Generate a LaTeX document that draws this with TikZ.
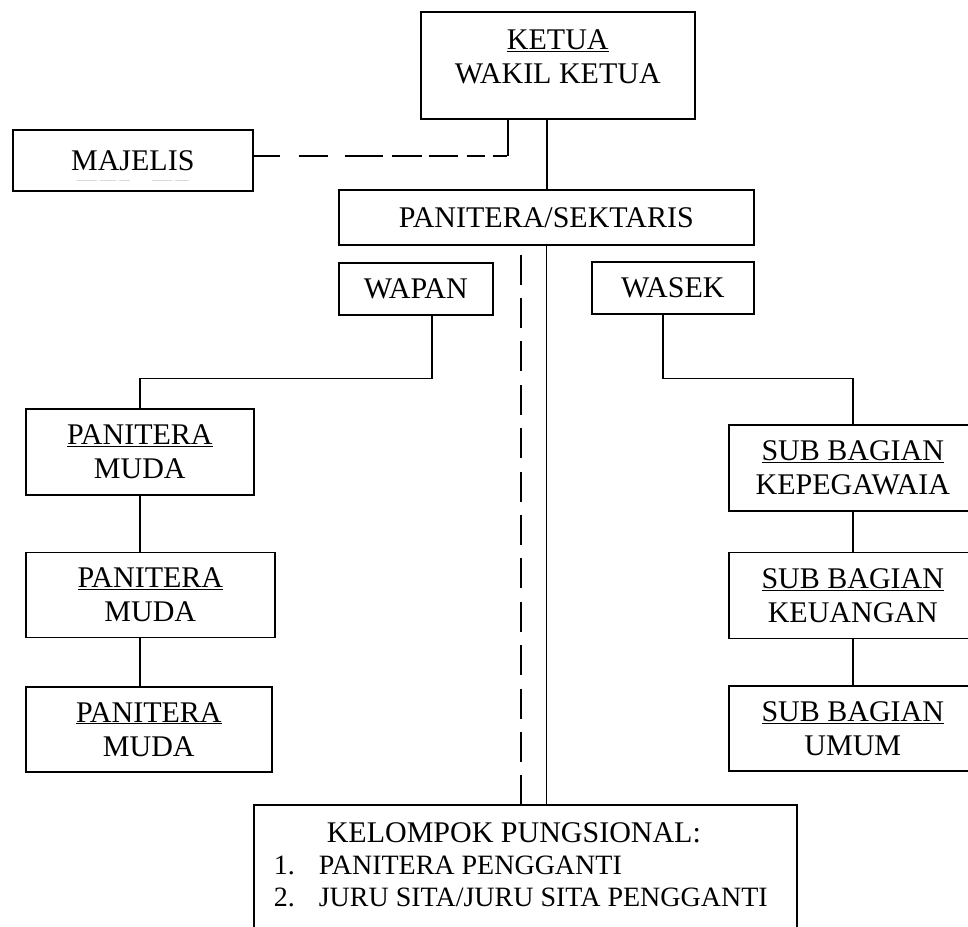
\documentclass[tikz,border=0pt]{standalone}
\usepackage{fontspec}
\setmainfont{Liberation Serif}
\usetikzlibrary{positioning}

\begin{document}
\begin{tikzpicture}[x=1pt, y=-1pt, line width=1.6pt,
    every node/.style={font=\fontsize{30}{34}\selectfont},
    kotak/.style={draw, rectangle, inner sep=0pt, align=center, anchor=north west},
    putusmajelis/.style={line width=2.2pt, dash pattern=on 26pt off 19pt on 29pt off 17pt on 38pt off 9pt on 30pt off 7pt on 29pt off 9pt on 18pt off 8pt on 14pt off 10pt},
    putusfungsi/.style={line width=1.6pt, dash pattern=on 30pt off 13.4pt}]
    \useasboundingbox (0,0) rectangle (968,926);
    \clip (0,0) rectangle (968,926);
    \node[kotak,minimum width=274pt,minimum height=107pt] (ketua) at (420,11) {\underline{KETUA}\\WAKIL KETUA\\[-17pt]\mbox{}};
    \node[kotak,minimum width=240pt,minimum height=61pt] (majelis) at (12,129) {MAJELIS};
    \node[kotak,minimum width=415pt,minimum height=55pt] (sek) at (338,189) {PANITERA/SEKTARIS};
    \node[kotak,minimum width=154pt,minimum height=52pt] (wapan) at (338,262) {WAPAN};
    \node[kotak,minimum width=162pt,minimum height=52pt] (wasek) at (591,261) {WASEK};
    \node[kotak,minimum width=228pt,minimum height=86pt] (pm1) at (25,408) {\underline{PANITERA}\\MUDA};
    \node[kotak,below right=56pt and 0pt of pm1.south west,minimum width=249pt,minimum height=85pt] (pm2) {\underline{PANITERA}\\MUDA};
    \node[kotak,below right=48pt and 0pt of pm2.south west,minimum width=246pt,minimum height=85pt] (pm3) {\underline{PANITERA}\\MUDA};
    \node[kotak,minimum width=248pt,minimum height=86pt] (sb1) at (728,424) {\underline{SUB BAGIAN}\\KEPEGAWAIA};
    \node[kotak,below right=40pt and 0pt of sb1.south west,minimum width=248pt,minimum height=86pt] (sb2) {\underline{SUB BAGIAN}\\KEUANGAN};
    \node[kotak,below right=46pt and 0pt of sb2.south west,minimum width=248pt,minimum height=85pt] (sb3) {\underline{SUB BAGIAN}\\UMUM};
    \node[kotak,minimum width=543pt,minimum height=140pt] (kel) at (253,804) {};
    \node[anchor=north west,inner sep=0pt,align=left,font=\fontsize{30}{32}\selectfont] (kelisi) at ([xshift=20pt,yshift=-18pt]kel.north west)
        {\hspace*{53pt}KELOMPOK PUNGSIONAL:\\{\fontsize{28}{32}\selectfont\makebox[45pt][l]{1.}PANITERA PENGGANTI}\\{\fontsize{28}{32}\selectfont\makebox[45pt][l]{2.}JURU SITA/JURU SITA PENGGANTI}};
    % sisa garis samar di bawah majelis
    \draw[gray!30, line width=0.8pt, dash pattern=on 20pt off 3pt on 16pt off 3pt on 11pt off 22pt] ([shift={(-56pt,-20.5pt)}]majelis.center) -- ([shift={(56pt,-20.5pt)}]majelis.center);
    \draw ([xshift=-11pt]ketua.south) -- ([xshift=-11pt]ketua.south |- sek.north);
    \draw ([xshift=-50pt]ketua.south) -- ++(0,36) coordinate (simpul);
    \draw[putusmajelis] (majelis.east |- simpul) -- (simpul);
    \draw (sek.south) -- (sek.south |- kel.north);
    \draw[putusfungsi] ([xshift=-25.5pt,yshift=-9pt]sek.south) -- ([xshift=-25.5pt]sek.south |- kel.north);
    \draw ([xshift=16pt]wapan.south) -- ++(0,63) -| (pm1.north);
    \draw (pm1.south) -- (pm1.south |- pm2.north);
    \draw (pm1.south |- pm2.south) -- (pm1.south |- pm3.north);
    \draw ([xshift=-10pt]wasek.south) -- ++(0,64) -| (sb1.north);
    \draw (sb1.south) -- (sb2.north);
    \draw (sb2.south) -- (sb3.north);
\end{tikzpicture}
\end{document}
